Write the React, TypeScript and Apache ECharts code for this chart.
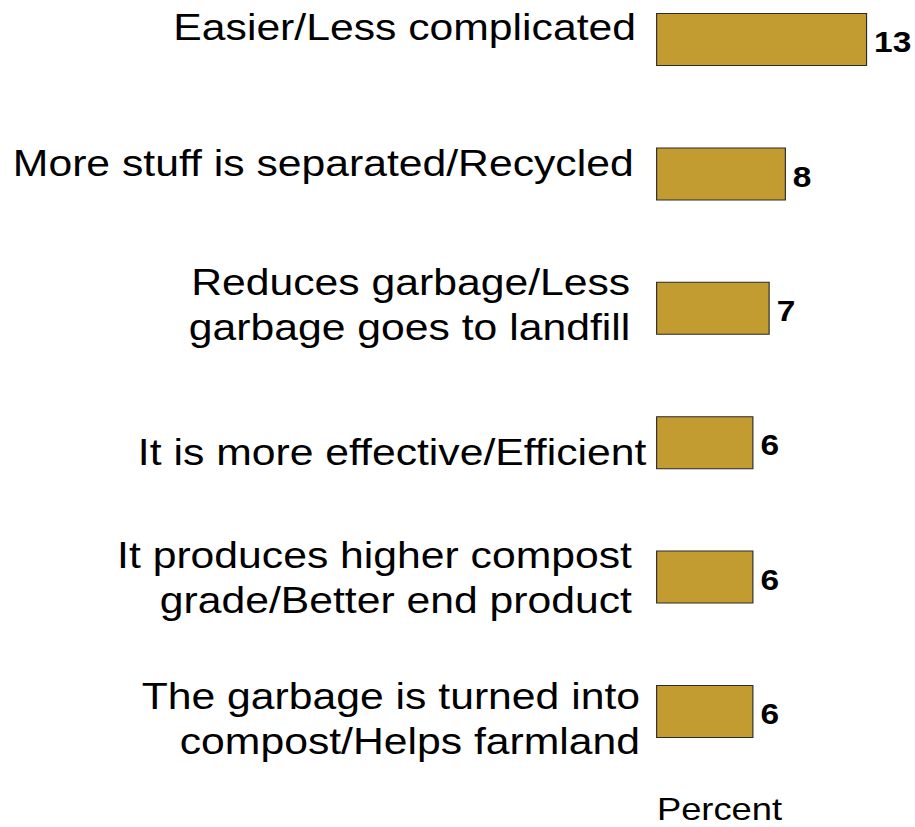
import React, { useEffect, useRef } from "react";
import * as echarts from "echarts";

const categories: string[] = [
  "Easier/Less complicated",
  "More stuff is separated/Recycled",
  "Reduces garbage/Less\ngarbage goes to landfill",
  "It is more effective/Efficient",
  "It produces higher compost\ngrade/Better end product",
  "The garbage is turned into\ncompost/Helps farmland",
];
const values: number[] = [13, 8, 7, 6, 6, 6];
const axisTitle = "Percent";

// horizontal stretch of the original picture
const SX = 1.154;
const W = 915 / SX;
const H = 827;

// per-label nudges [dx, dy]
const labelNudges: number[][] = [
  [0, -12],
  [-2, -11],
  [-5, -4],
  [9, 9],
  [-3.5, 0],
  [3.5, 7],
];

export default function App() {
  const ref = useRef<HTMLDivElement>(null);
  useEffect(() => {
    if (!ref.current) return;
    const chart = echarts.init(ref.current, null, { renderer: "svg" });
    const font = "'Liberation Sans', Arial, sans-serif";
    const gridLeft = 568.5;
    const gridRight = W - 751.3;
    chart.setOption({
      animation: false,
      grid: { left: gridLeft, right: gridRight, top: 39.5, bottom: 115.5, containLabel: false },
      xAxis: { type: "value", min: 0, max: 13, show: false },
      yAxis: {
        type: "category",
        inverse: true,
        boundaryGap: false,
        data: categories,
        axisLine: { show: false },
        axisTick: { show: false },
        splitLine: { show: false },
        axisLabel: { show: false },
      },
      series: [
        {
          type: "bar",
          data: values,
          barWidth: 53,
          itemStyle: { color: "#C39C31", borderColor: "#2a2a2a", borderWidth: 1 },
          label: {
            show: true,
            position: "right",
            distance: 6,
            offset: [0, 3],
            color: "#000",
            fontWeight: "bold",
            fontSize: 29,
            fontFamily: font,
          },
        },
        {
          type: "scatter",
          symbolSize: 0,
          silent: true,
          itemStyle: { opacity: 1 },
          data: categories.map((c, i) => ({
            value: [0, c],
            label: { offset: [labelNudges[i][0], labelNudges[i][1]] },
          })),
          label: {
            show: true,
            position: "left",
            distance: 17.4,
            formatter: (p: any) => p.value[1],
            color: "#000",
            opacity: 1,
            fontSize: 37,
            lineHeight: 45,
            fontFamily: font,
            align: "right",
          },
        },
      ],
      graphic: [
        {
          type: "text",
          x: 623.5,
          y: 809,
          style: {
            text: axisTitle,
            fontSize: 31.5,
            fontFamily: font,
            fill: "#000",
            align: "center",
            verticalAlign: "middle",
          },
        },
      ],
    });
    return () => chart.dispose();
  }, []);
  return (
    <div
      ref={ref}
      style={{
        position: "fixed",
        left: 0,
        top: 0,
        width: W + "px",
        height: H + "px",
        transform: `scaleX(${SX})`,
        transformOrigin: "0 0",
        background: "#fff",
      }}
    />
  );
}
